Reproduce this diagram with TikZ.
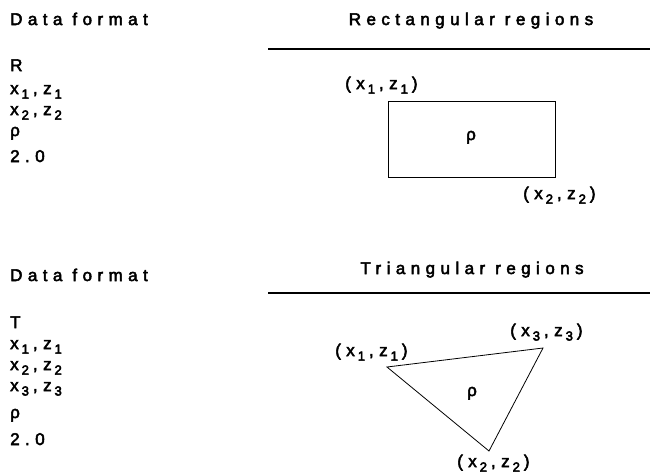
\documentclass[tikz,border=0pt]{standalone}
\usepackage{fontspec}
\setmainfont{Liberation Sans}[LetterSpace=32]
\usepackage{tikz}
\usetikzlibrary{positioning}
\newcommand{\sbs}[1]{\kern3pt\raisebox{-4.5pt}{\fontsize{13}{13}\selectfont #1}\kern4pt}
\newcommand{\wsp}{\kern10pt}
\newcommand{\heavy}{\special{pdf:literal 2 Tr 0.5 w}}

\begin{document}
\begin{tikzpicture}[x=1pt, y=-1pt, inner sep=0pt, txt/.style={font=\fontsize{17}{20}\selectfont\heavy, anchor=base west}, hdr/.style={font=\fontsize{17}{20}\selectfont\heavy, anchor=base}, rule/.style={line width=1.3pt}, shp/.style={line width=0.8pt} ]
	\useasboundingbox (0,0) rectangle (650,475);

	%Rectangular regions:
	\node[txt]	(DF1)	at (10,25)	{Data\wsp format};
	\node[txt]	(R)		at (10,71)	{R};
	\node[txt]	(RA)	at (10,94)	{x\sbs{1},z\sbs{1}};
	\node[txt]	(RB)	at (10,115)	{x\sbs{2},z\sbs{2}};
	\node[txt]	(RC)	at (10,136)	{ρ};
	\node[txt]	(RD)	at (10,162)	{2.0};
	\node[hdr]	(RH)	at (471,25)	{Rectangular\wsp regions};
	\coordinate (RL) at (268,49);
	\coordinate (RR) at (650,49);
	\draw[rule] (RL) -- (RR);
	\coordinate (P1) at (388,101);
	\coordinate (P2) at (555,177);
	\draw[shp] (P1) rectangle (P2);
	\node[txt]	(L1)	at (345,89)		{(x\sbs{1},z\sbs{1})};
	\node[txt]	(L2)	at (523,199)	{(x\sbs{2},z\sbs{2})};
	\node[hdr] (RHO1) at (471,140) {ρ};

	%Triangular regions:
	\node[txt]	(DF2)	at (10,281)	{Data\wsp format};
	\node[txt]	(T)		at (10,328)	{T};
	\node[txt]	(TA)	at (10,349)	{x\sbs{1},z\sbs{1}};
	\node[txt]	(TB)	at (10,370)	{x\sbs{2},z\sbs{2}};
	\node[txt]	(TC)	at (10,391)	{x\sbs{3},z\sbs{3}};
	\node[txt]	(TD)	at (10,418)	{ρ};
	\node[txt]	(TE)	at (10,445)	{2.0};
	\node[hdr]	(TH)	at (472,274)	{Triangular\wsp regions};
	\coordinate (TL) at (268,293);
	\coordinate (TR) at (650,293);
	\draw[rule] (TL) -- (TR);
	\coordinate (Q1) at (387,367);
	\coordinate (Q2) at (489,451);
	\coordinate (Q3) at (543,348);
	\draw[shp] (Q1) -- (Q2) -- (Q3) -- cycle;
	\node[txt]	(M1)	at (335,356)	{(x\sbs{1},z\sbs{1})};
	\node[txt]	(M3)	at (510,336)	{(x\sbs{3},z\sbs{3})};
	\node[txt]	(M2)	at (457,467)	{(x\sbs{2},z\sbs{2})};
	\node[hdr] (RHO2) at (472,396) {ρ};
\end{tikzpicture}
\end{document}
